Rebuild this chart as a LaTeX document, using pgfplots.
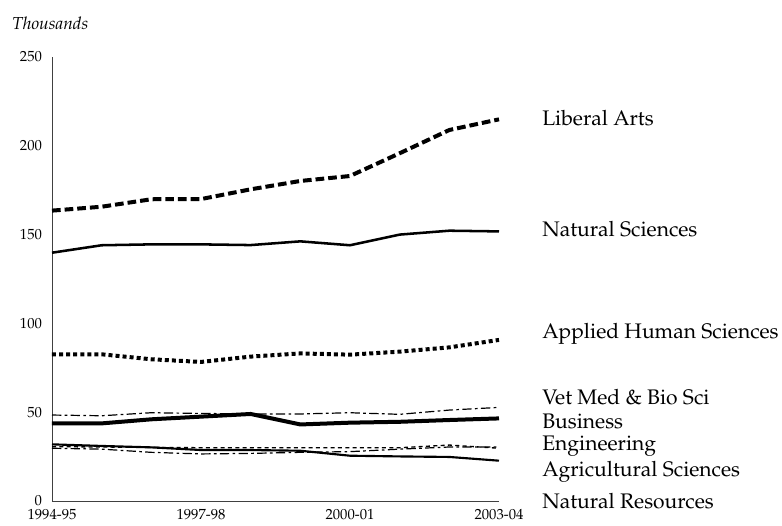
\documentclass[border=0pt]{standalone}
\usepackage[T1]{fontenc}
\usepackage{mathpazo}
\usepackage{pgfplots}
\pgfplotsset{compat=1.18}
\begin{document}
\begin{tikzpicture}
\begin{axis}[
  at={(0,0)}, anchor=south west,
  scale only axis,
  width=335.25pt, height=333pt,
  xmin=0, xmax=9, ymin=0, ymax=250,
  axis x line*=bottom, axis y line*=left,
  axis line style={draw=black!75, line width=0.6pt, -},
  xtick={0,3,6,9},
  xticklabels={1994-95,1997-98,2000-01,2003-04},
  ytick={0,50,100,150,200,250},
  major tick length=0pt,
  tick label style={font=\fontsize{11}{12}\selectfont, text=black},
  yticklabel style={xshift=-4pt},
  xticklabel style={yshift=-3pt},
  clip=false,
  /pgf/number format/assume math mode=true,
]
% Liberal Arts
\addplot[black, line width=3pt, dash pattern=on 6.5pt off 3pt] coordinates {
(0,163.5)(1,165.7)(2,169.9)(3,170.0)(4,175.5)(5,180.2)(6,183.0)(7,195.8)(8,208.9)(9,214.9)};
% Natural Sciences
\addplot[black, line width=1.9pt] coordinates {
(0,139.8)(1,144.0)(2,144.5)(3,144.5)(4,144.1)(5,146.2)(6,144.0)(7,150.0)(8,152.2)(9,151.8)};
% Applied Human Sciences
\addplot[black, line width=3pt, dash pattern=on 3pt off 2.3pt] coordinates {
(0,82.6)(1,82.6)(2,79.8)(3,78.3)(4,81.3)(5,83.1)(6,82.4)(7,84.1)(8,86.5)(9,90.7)};
% Vet Med & Bio Sci
\addplot[black, line width=0.9pt, dash pattern=on 7pt off 2.5pt on 2pt off 2.5pt] coordinates {
(0,48.4)(1,48.0)(2,49.7)(3,49.3)(4,49.0)(5,49.0)(6,49.7)(7,48.8)(8,51.2)(9,52.7)};
% Business
\addplot[black, line width=3pt] coordinates {
(0,43.7)(1,43.7)(2,46.0)(3,47.5)(4,49.0)(5,43.1)(6,44.1)(7,44.6)(8,45.6)(9,46.5)};
% Engineering (dashed)
\addplot[black, line width=1pt, dash pattern=on 3pt off 2.5pt] coordinates {
(0,30.6)(1,30.4)(2,30.2)(3,30.0)(4,30.0)(5,30.0)(6,30.0)(7,30.0)(8,31.5)(9,29.7)};
% Agricultural Sciences (dash-dot)
\addplot[black, line width=0.9pt, dash pattern=on 7pt off 2.5pt on 2pt off 2.5pt] coordinates {
(0,29.7)(1,29.2)(2,27.4)(3,26.5)(4,26.8)(5,27.4)(6,27.8)(7,29.2)(8,30.4)(9,30.4)};
% Natural Resources (solid)
\addplot[black, line width=1.6pt] coordinates {
(0,31.9)(1,31.0)(2,30.2)(3,28.7)(4,28.7)(5,28.3)(6,25.5)(7,25.1)(8,24.8)(9,22.7)};
\begin{scope}[every node/.style={anchor=west, inner sep=0pt, font=\fontsize{15.8}{17}\selectfont}]
\node at (axis cs:9.866,215.7) {Liberal Arts};
\node at (axis cs:9.866,153.2) {Natural Sciences};
\node at (axis cs:9.866,94.0) {Applied Human Sciences};
\node at (axis cs:9.866,58.6) {Vet Med \& Bio Sci};
\node at (axis cs:9.866,45.0) {Business};
\node at (axis cs:9.866,31.0) {Engineering};
\node at (axis cs:9.866,16.3) {Agricultural Sciences};
\node at (axis cs:9.866,0) {Natural Resources};
\end{scope}
\node[anchor=west, inner sep=0pt, font=\fontsize{13}{14}\selectfont\itshape] at (axis cs:-0.805,269.2) {Thousands};
\end{axis}
\path[use as bounding box] (-39pt,-18pt) rectangle (547.5pt,375.75pt);
\end{tikzpicture}
\end{document}
